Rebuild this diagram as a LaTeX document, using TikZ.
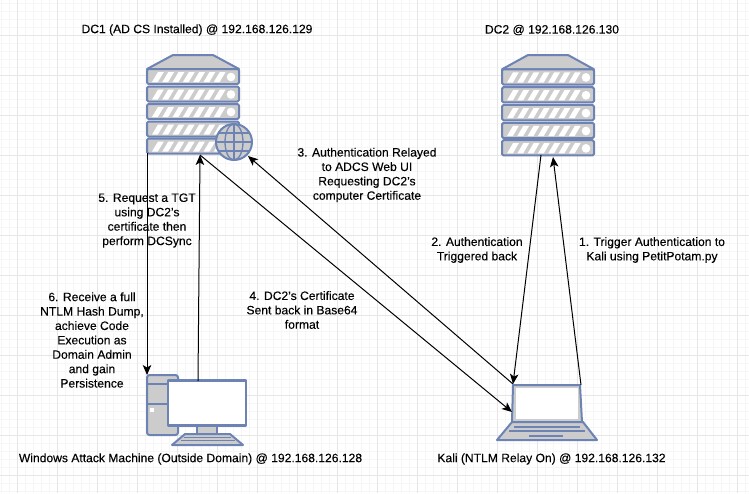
\documentclass[tikz,border=0pt]{standalone}
\usepackage{fontspec}
\setmainfont{Liberation Sans}[FakeBold=0.12]
\usetikzlibrary{arrows.meta}
\definecolor{iconline}{HTML}{6C83B4}
\definecolor{iconfill}{HTML}{CCCCCC}
\definecolor{gridmajor}{HTML}{E6E6E6}
\definecolor{gridminor}{HTML}{F6F6F6}
\tikzset{
  iconbox/.style={rectangle,draw=none,fill=none,inner sep=0pt,outer sep=0pt},
  port/.style={coordinate},
  icon/.style={draw=iconline,fill=iconfill,line width=2pt,line join=round},
  iconbar/.style={draw=iconline,line width=1.4pt},
  label/.style={align=center,font=\fontsize{12.1}{14.4}\selectfont,text=black,inner sep=0pt},
  arr/.style={draw=black,line width=1pt,-{Stealth[length=10pt,width=8.5pt,inset=2.5pt]}},
  pics/serverpic/.style={code={
    \path[icon] (0,14) -- (26,0) -- (66,0) -- (92,14) -- cycle;
    \foreach \yy in {14,31.5,49,66.5,83.5}{
      \path[icon,rounded corners=1.5pt] (0,\yy) rectangle (92,\yy+15);
      \foreach \k in {0,...,6}{
        \fill[white] ({5+10.3*\k},\yy+13) -- ({10.8+10.3*\k},\yy+13) -- ({16.8+10.3*\k},\yy+3) -- ({11+10.3*\k},\yy+3) -- cycle;
      }
      \fill[white] (84,\yy+8) circle (4.3pt);
    }
  }}
}
\begin{document}
\begin{tikzpicture}[x=1pt,y=-1pt]
\useasboundingbox (0,0) rectangle (749,493);
\fill[white] (0,0) rectangle (749,493);
% grid
\foreach \i in {0,...,94}{\draw[gridminor,line width=0.6pt] ({1+8*\i},0) -- ({1+8*\i},493);}
\foreach \i in {0,...,61}{\draw[gridminor,line width=0.6pt] (0,{3+8*\i}) -- (749,{3+8*\i});}
\foreach \i in {0,...,18}{\draw[gridmajor,line width=0.8pt] ({17+40*\i},0) -- ({17+40*\i},493);}
\foreach \i in {0,...,11}{\draw[gridmajor,line width=0.8pt] (0,{35+40*\i}) -- (749,{35+40*\i});}

% DC1
\pic at (147,55) {serverpic};
\node[iconbox,minimum width=92pt,minimum height=98pt] (dc1) at (193,104) {};
% globe
\node[iconbox,circle,minimum size=37pt] (globe) at (234,142) {};
\path[icon] (globe.center) circle (18pt);
\begin{scope}[shift={(234,142)},iconbar,line width=1.3pt]
  \draw (0,-18) -- (0,18);
  \draw (-18,0) -- (18,0);
  \draw (0,0) ellipse (9pt and 18pt);
  \draw (-15.5,-9) -- (15.5,-9);
  \draw (-15.5,9) -- (15.5,9);
\end{scope}

% DC2
\pic[yscale=1.02] at (502,55) {serverpic};
\node[iconbox,minimum width=92pt,minimum height=100pt] (dc2) at (548,105) {};

% Windows machine
\node[iconbox,minimum width=100pt,minimum height=70pt] (win) at (197,410) {};
\path[icon,rounded corners=2.5pt] (147,375) rectangle (178,435);
\draw[iconbar,line width=1.8pt] (147,384) -- (178,384);
\draw[iconbar,line width=1.8pt] (147,404) -- (178,404);
\fill[white] (150,408) rectangle (154,412);
\path[icon] (197,426) rectangle (217,434);
\path[icon] (185,434) -- (230,434) -- (243,445) -- (172,445) -- cycle;
\draw[iconbar,line width=1pt] (184,437.5) -- (231,437.5);
\draw[iconbar,line width=1pt] (181,440.5) -- (235,440.5);
\path[icon,fill=white,line width=2.6pt] (168,380.5) rectangle (246,425.5);

% Kali laptop
\node[iconbox,minimum width=100pt,minimum height=55pt] (kali) at (547,412.5) {};
\path[icon] (513,385) -- (580,385) -- (582,422) -- (512,422) -- cycle;
\fill[white] (516,388) -- (578,388) -- (578,419) -- (516,419) -- cycle;
\path[icon] (512,422) -- (583,422) -- (597,440) -- (497,440) -- cycle;
\draw[iconbar] (514,427) -- (580,427);
\draw[iconbar] (509,431) -- (585,431);
\draw[iconbar] (529,436) -- (563,436);

% ports
\node[port] (dc2in)   at (553,157) {};
\node[port] (dc2out)  at (541,155) {};
\node[port] (kaliR)   at (581,385) {};
\node[port] (kaliTL)  at (513,384) {};
\node[port] (kaliL)   at (512,412) {};
\node[port] (dc1web)  at (248,156) {};
\node[port] (dc1in)   at (200,155) {};
\node[port] (winout)  at (198,381) {};

% connectors
\draw[arr] (kaliR) -- (dc2in);
\draw[arr] (dc2out) -- (kaliTL);
\draw[arr] (kaliTL) -- (dc1web);
\draw[arr] (dc1in) -- (kaliL);
\draw[arr] (winout) -- (dc1in);
\draw[arr] (dc1.south west) -- (win.north west);

% labels
\node[label] (t1) at (197,30) {DC1 (AD CS Installed) @ 192.168.126.129};
\node[label] (t2) at (552,30) {DC2 @ 192.168.126.130};
\node[label] (t3) at (190.5,459) {Windows Attack Machine (Outside Domain) @ 192.168.126.128};
\node[label] (t4) at (551.5,459) {Kali (NTLM Relay On) @ 192.168.126.132};
\node[label] (l1) at (652,250) {1. Trigger Authentication to\\Kali using PetitPotam.py};
\node[label] (l2) at (477,250) {2. Authentication\\Triggered back};
\node[label] (l3) at (367,175) {3. Authentication Relayed\\to ADCS Web UI\\Requesting DC2's\\computer Certificate};
\node[label] (l4) at (302,310) {4. DC2's Certificate\\Sent back in Base64\\format};
\node[label] (l5) at (147,220.5) {5. Request a TGT\\using DC2's\\certificate then\\perform DCSync};
\node[label] (l6) at (92,340) {6. Receive a full\\NTLM Hash Dump,\\achieve Code\\Execution as\\Domain Admin\\and gain\\Persistence};
\end{tikzpicture}
\end{document}
